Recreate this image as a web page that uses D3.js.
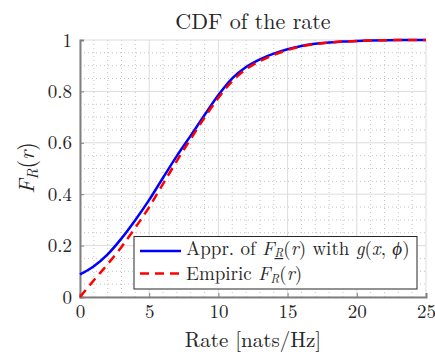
<!DOCTYPE html>
<html>
<head>
<meta charset="utf-8">
<script src="https://cdn.jsdelivr.net/npm/d3@7"></script>
<style>
  body { margin: 0; background: #fff; }
  text { font-family: "Latin Modern Roman", "Liberation Serif", "DejaVu Serif", serif; fill: #262626; }
</style>
</head>
<body>
<script>
// rate values (nats/Hz)
const rates = d3.range(0, 26);
// approximation with g(x, phi)
const approxCdf = [0.088, 0.12, 0.166, 0.228, 0.30, 0.378, 0.464, 0.549, 0.628, 0.708, 0.786,
    0.851, 0.895, 0.925, 0.947, 0.964, 0.977, 0.985, 0.99, 0.994, 0.996, 0.998, 0.999, 1.0, 1.0, 1.0];
// empiric CDF
const empiricCdf = [0.0, 0.065, 0.128, 0.195, 0.27, 0.35, 0.44, 0.53, 0.615, 0.698, 0.775,
    0.84, 0.886, 0.918, 0.942, 0.961, 0.975, 0.984, 0.99, 0.994, 0.996, 0.998, 0.999, 1.0, 1.0, 1.0];
const xTicks = [0, 5, 10, 15, 20, 25];
const yTicks = [0, 0.2, 0.4, 0.6, 0.8, 1];

const width = 435, height = 354;
const marginLeft = 80, marginRight = 9, marginTop = 40, marginBottom = 57;
const chartWidth = width - marginLeft - marginRight;
const chartHeight = height - marginTop - marginBottom;

const svg = d3.select("body").append("svg")
    .attr("width", width)
    .attr("height", height);

const xScale = d3.scaleLinear().domain([0, 25]).range([marginLeft, marginLeft + chartWidth]);
const yScale = d3.scaleLinear().domain([0, 1]).range([marginTop + chartHeight, marginTop]);

// minor grid (dotted)
const minorX = d3.range(0, 26, 1).filter(v => v % 5 !== 0);
const minorY = d3.range(0, 1.0001, 0.05).filter(v => Math.abs(v * 5 - Math.round(v * 5)) > 1e-6);
svg.append("g").selectAll("line").data(minorX).join("line")
    .attr("x1", d => xScale(d)).attr("x2", d => xScale(d))
    .attr("y1", yScale(0)).attr("y2", yScale(1))
    .attr("stroke", "#c4c4c4").attr("stroke-width", 1).attr("stroke-dasharray", "1,3");
svg.append("g").selectAll("line").data(minorY).join("line")
    .attr("x1", xScale(0)).attr("x2", xScale(25))
    .attr("y1", d => yScale(d)).attr("y2", d => yScale(d))
    .attr("stroke", "#c4c4c4").attr("stroke-width", 1).attr("stroke-dasharray", "1,3");

// major grid
svg.append("g").selectAll("line").data(xTicks).join("line")
    .attr("x1", d => xScale(d)).attr("x2", d => xScale(d))
    .attr("y1", yScale(0)).attr("y2", yScale(1))
    .attr("stroke", "#dcdcdc").attr("stroke-width", 1);
svg.append("g").selectAll("line").data(yTicks).join("line")
    .attr("x1", xScale(0)).attr("x2", xScale(25))
    .attr("y1", d => yScale(d)).attr("y2", d => yScale(d))
    .attr("stroke", "#dcdcdc").attr("stroke-width", 1);

// axes
const xAxis = svg.append("g")
    .attr("transform", "translate(0," + yScale(0) + ")")
    .call(d3.axisBottom(xScale).tickValues(xTicks).tickSize(-4).tickPadding(7).tickFormat(d3.format("d")));
const yAxis = svg.append("g")
    .attr("transform", "translate(" + xScale(0) + ",0)")
    .call(d3.axisLeft(yScale).tickValues(yTicks).tickSize(-4).tickPadding(8).tickFormat(d => d === 0 || d === 1 ? d : d3.format(".1f")(d)));
[xAxis, yAxis].forEach(a => {
    a.select(".domain").attr("stroke", "#808080").attr("stroke-width", 2);
    a.selectAll(".tick line").attr("stroke", "#808080");
    a.selectAll("text").attr("font-size", 19).attr("fill", "#262626")
        .style("font-family", "'Latin Modern Roman', 'Liberation Serif', serif");
});

// lines
const line = (vals) => d3.line().curve(d3.curveMonotoneX)
    .x((d, i) => xScale(rates[i])).y(d => yScale(d))(vals);
svg.append("path").attr("d", line(approxCdf))
    .attr("fill", "none").attr("stroke", "#0000ff").attr("stroke-width", 2.5);
svg.append("path").attr("d", line(empiricCdf))
    .attr("fill", "none").attr("stroke", "#ff0000").attr("stroke-width", 2.5)
    .attr("stroke-dasharray", "9,6");

// title and labels
svg.append("text").attr("x", 253).attr("y", 29).attr("text-anchor", "middle")
    .attr("font-size", 22).text("CDF of the rate");
svg.append("text").attr("x", 253).attr("y", 347).attr("text-anchor", "middle")
    .attr("font-size", 21).text("Rate [nats/Hz]");

const yLab = svg.append("text")
    .attr("transform", "translate(34,168) rotate(-90)")
    .attr("text-anchor", "middle").attr("font-size", 22);
yLab.append("tspan").attr("font-style", "italic").text("F");
yLab.append("tspan").attr("font-style", "italic").attr("font-size", 15).attr("dy", 4).text("R");
yLab.append("tspan").attr("dy", -4).text("(");
yLab.append("tspan").attr("font-style", "italic").text("r");
yLab.append("tspan").text(")");

// legend
const legend = svg.append("g");
legend.append("rect").attr("x", 134).attr("y", 236.5).attr("width", 283).attr("height", 52.5)
    .attr("fill", "#fff").attr("stroke", "#262626").attr("stroke-width", 1);
legend.append("line").attr("x1", 140).attr("x2", 181).attr("y1", 251).attr("y2", 251)
    .attr("stroke", "#0000ff").attr("stroke-width", 2.5);
legend.append("line").attr("x1", 140).attr("x2", 181).attr("y1", 273.5).attr("y2", 273.5)
    .attr("stroke", "#ff0000").attr("stroke-width", 2.5).attr("stroke-dasharray", "9,6");

const t1 = legend.append("text").attr("x", 186).attr("y", 255).attr("font-size", 19);
t1.append("tspan").text("Appr. of ");
t1.append("tspan").attr("font-style", "italic").text("F");
t1.append("tspan").attr("font-style", "italic").attr("font-size", 12).attr("dy", 2)
    .attr("text-decoration", "underline").text("R");
t1.append("tspan").attr("dy", -2).text("(");
t1.append("tspan").attr("font-style", "italic").text("r");
t1.append("tspan").text(") with ");
t1.append("tspan").attr("font-style", "italic").text("g");
t1.append("tspan").text("(");
t1.append("tspan").attr("font-style", "italic").text("x");
t1.append("tspan").text(", ");
t1.append("tspan").attr("font-style", "italic").text("ϕ");
t1.append("tspan").text(")");

const t2 = legend.append("text").attr("x", 186).attr("y", 280).attr("font-size", 19);
t2.append("tspan").text("Empiric ");
t2.append("tspan").attr("font-style", "italic").text("F");
t2.append("tspan").attr("font-style", "italic").attr("font-size", 12).attr("dy", 3).text("R");
t2.append("tspan").attr("dy", -3).text("(");
t2.append("tspan").attr("font-style", "italic").text("r");
t2.append("tspan").text(")");
</script>
</body>
</html>
